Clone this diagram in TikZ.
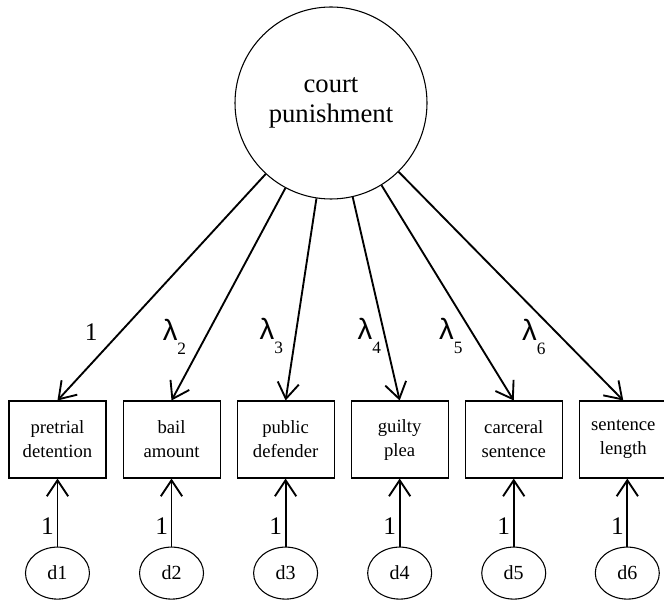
\documentclass[tikz,border=0pt]{standalone}
\usepackage{fontspec}
\setmainfont{Liberation Serif}
\newfontfamily\grkfont{Liberation Sans}
\usepackage{tikz}
\usetikzlibrary{shapes.geometric,arrows.meta,positioning}
\newcommand{\lamsub}[1]{{\grkfont\fontsize{22}{24}\selectfont λ}%
  \raisebox{-10.5pt}{\fontsize{13}{14}\selectfont #1}}

\begin{document}
\begin{tikzpicture}[
          latent/.style={draw,circle,line width=0.8pt,minimum size=144pt,
                         inner sep=0pt,align=center,
                         font=\fontsize{20}{22.5}\selectfont},
          obs/.style={draw,rectangle,line width=0.8pt,
                      minimum width=72.75pt,minimum height=57.75pt,
                      inner sep=0pt,align=center,
                      font=\fontsize{14}{18}\selectfont},
          err/.style={draw,ellipse,line width=0.8pt,
                      minimum width=48pt,minimum height=39pt,
                      inner sep=0pt,font=\fontsize{15}{18}\selectfont},
          load/.style={-{Straight Barb[length=12pt,width=16pt]},line width=1.4pt},
          coef/.style={inner sep=0pt,font=\fontsize{19}{22}\selectfont}]
        \useasboundingbox (0pt,0pt) rectangle (498pt,452.25pt);
        \node[latent] (punish) at (248.25pt,375pt) {court\\punishment};
        \node[obs] (detn) at (43.1pt,122.6pt) {pretrial\\detention};
        \node[obs,right=12pt of detn] (bail) {bail\\amount};
        \node[obs,right=12pt of bail] (pubd) {public\\defender};
        \node[obs,right=12pt of pubd] (plea) {guilty\\plea};
        \node[obs,right=12pt of plea] (carc) {carceral\\sentence};
        \node[obs,right=12pt of carc,minimum width=66pt] (slen) {sentence\\length};
        \node[err,below=51pt of detn] (d1) {d1};
        \node[err,below=51pt of bail] (d2) {d2};
        \node[err,below=51pt of pubd] (d3) {d3};
        \node[err,below=51pt of plea] (d4) {d4};
        \node[err,below=51pt of carc] (d5) {d5};
        \node[err,below=51pt of slen,xshift=3pt] (d6) {d6};
        \draw[load] (punish) -- (detn.north) node[coef,pos=0.7,left=16pt] {1};
        \draw[load] (punish) -- (bail.north) node[coef,pos=0.7,left=14pt] {\lamsub{2}};
        \draw[load] (punish) -- (pubd.north) node[coef,pos=0.68,left=8.6pt] {\lamsub{3}};
        \draw[load] (punish) -- (plea.north) node[coef,pos=0.68,left=2pt] {\lamsub{4}};
        \draw[load] (punish) -- (carc.north) node[coef,pos=0.7,left=8pt] {\lamsub{5}};
        \draw[load] (punish) -- (slen.north) node[coef,pos=0.72,left=10.5pt] {\lamsub{6}};
        \draw[load] (d1) -- (d1 |- detn.south) node[coef,pos=0.3,left=2pt] {1};
        \draw[load] (d2) -- (d2 |- bail.south) node[coef,pos=0.3,left=2pt] {1};
        \draw[load] (d3) -- (d3 |- pubd.south) node[coef,pos=0.3,left=2pt] {1};
        \draw[load] (d4) -- (d4 |- plea.south) node[coef,pos=0.3,left=2pt] {1};
        \draw[load] (d5) -- (d5 |- carc.south) node[coef,pos=0.3,left=2pt] {1};
        \draw[load] (d6) -- (d6 |- slen.south) node[coef,pos=0.3,left=2pt] {1};
      \end{tikzpicture}
\end{document}
